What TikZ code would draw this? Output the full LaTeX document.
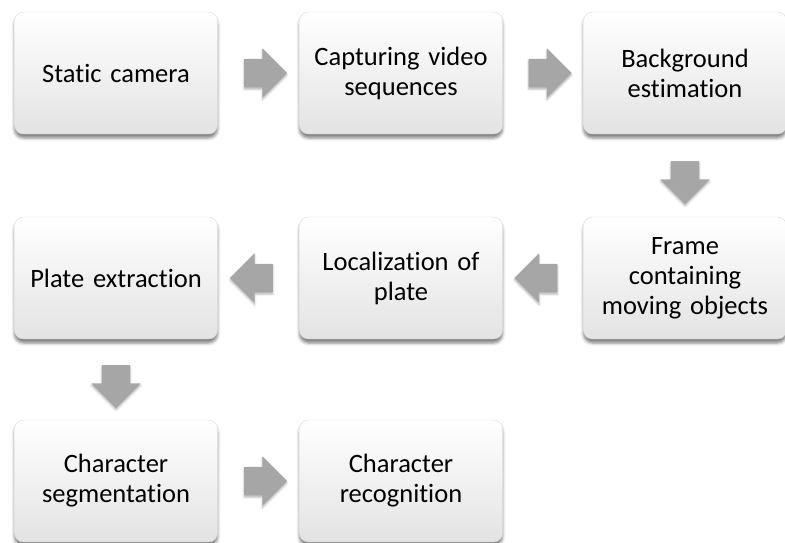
\documentclass[tikz,border=0pt]{standalone}
\usepackage{fontspec}
\setmainfont{Carlito}[RawFeature=-liga, WordSpace=0.7]
\usetikzlibrary{shapes.arrows,shadows.blur,calc}
\tikzset{
  stepbox/.style={rectangle, rounded corners=9pt, minimum width=203pt, minimum height=122pt,
    inner sep=0pt, text width=200pt, align=center, draw=black!15, line width=0.4pt,
    top color=white, bottom color=black!11,
    blur shadow={shadow xshift=0pt, shadow yshift=-4pt, shadow blur radius=3pt, shadow opacity=50},
    font=\fontsize{26.5}{30}\selectfont},
  flowarrow/.style={single arrow, inner sep=0pt, minimum height=43pt, minimum width=0pt,
    single arrow head extend=10.5pt, single arrow head indent=0pt, draw=none,
    fill=black!35,
    blur shadow={shadow xshift=0pt, shadow yshift=-2pt, shadow blur radius=2pt, shadow opacity=30}}
}
\newcommand{\hshaft}{\phantom{\rule{0pt}{28pt}}}
\newcommand{\vshaft}{\phantom{\rule{28pt}{0pt}}}
\begin{document}
\begin{tikzpicture}[x=1pt,y=-1pt]
\useasboundingbox (0,0) rectangle (785,542);
\begin{scope}
\clip (0,0) rectangle (785,542);
\node[stepbox] (b1) at (116,73) {Static camera};
\node[stepbox] (b2) at (401,73) {Capturing video\\sequences};
\node[stepbox] (b3) at (685,73) {Background\\estimation};
\node[stepbox] (b6) at (116,278) {Plate extraction};
\node[stepbox] (b5) at (401,278) {Localization of\\plate};
\node[stepbox] (b4) at (685,278) {Frame\\containing\\moving objects};
\node[stepbox] (b7) at (116,481) {Character\\segmentation};
\node[stepbox] (b8) at (401,481) {Character\\recognition};

\node[flowarrow] (a12) at ($(b1.east)!0.5!(b2.west)$) {\hshaft};
\node[flowarrow] (a23) at ($(b2.east)!0.5!(b3.west)$) {\hshaft};
\node[flowarrow, shape border rotate=270] (a34) at ($(b3.south)!0.5!(b4.north)$) {\vshaft};
\node[flowarrow, shape border rotate=180] (a45) at ($(b4.west)!0.5!(b5.east)$) {\hshaft};
\node[flowarrow, shape border rotate=180] (a56) at ($(b5.west)!0.5!(b6.east)$) {\hshaft};
\node[flowarrow, shape border rotate=270] (a67) at ($(b6.south)!0.5!(b7.north)$) {\vshaft};
\node[flowarrow] (a78) at ($(b7.east)!0.5!(b8.west)$) {\hshaft};
\end{scope}
\end{tikzpicture}
\end{document}
